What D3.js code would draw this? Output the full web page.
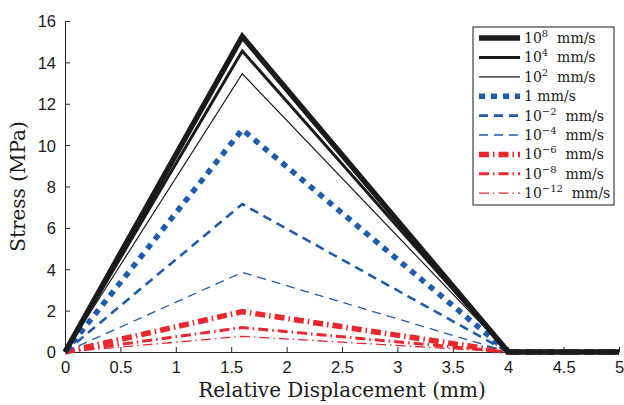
<!DOCTYPE html>
<html>
<head>
<meta charset="utf-8">
<script src="https://cdn.jsdelivr.net/npm/d3@7"></script>
<style>
  html, body { margin: 0; padding: 0; background: #fff; }
  svg { display: block; }
</style>
</head>
<body>
<svg id="chart" width="624" height="405"></svg>
<script>
// Loading rates (mm/s) given as base-10 exponents, plus the peak stress of each curve
const rateExponents = [8, 4, 2, 0, -2, -4, -6, -8, -12];
const peakStress = [15.25, 14.55, 13.45, 10.75, 7.15, 3.85, 1.95, 1.18, 0.76];
// Traction-separation shape shared by every curve: displacement knots (mm)
const dispKnots = [0, 1.6, 4, 5];
// Tick labels
const xTicks = [0, 0.5, 1, 1.5, 2, 2.5, 3, 3.5, 4, 4.5, 5];
const yTicks = [0, 2, 4, 6, 8, 10, 12, 14, 16];

const BLACK = "#1a1a1a", BLUE = "#1c5cad", RED = "#e8282e";
const styles = [
  { color: BLACK, width: 5.5, dash: null },
  { color: BLACK, width: 3, dash: null },
  { color: BLACK, width: 1.2, dash: null },
  { color: BLUE, width: 5.5, dash: "6,6" },
  { color: BLUE, width: 2.6, dash: "9,6" },
  { color: BLUE, width: 1.3, dash: "9,6" },
  { color: RED, width: 5.5, dash: "10,4,1.5,4" },
  { color: RED, width: 3, dash: "10,4,1.5,4" },
  { color: RED, width: 1.3, dash: "10,4,1.5,4" }
];

const svg = d3.select("#chart");
const x = d3.scaleLinear().domain([0, 5]).range([65, 619]);
const y = d3.scaleLinear().domain([0, 16]).range([352, 21]);

// Axes (ticks pointing inward)
const axisColor = "#262626";
const xAxis = svg.append("g").attr("transform", `translate(0,${y(0)})`)
  .call(d3.axisBottom(x).tickValues(xTicks).tickSizeInner(-5).tickSizeOuter(0)
    .tickPadding(9).tickFormat(d => String(d)));
const yAxis = svg.append("g").attr("transform", `translate(${x(0)},0)`)
  .call(d3.axisLeft(y).tickValues(yTicks).tickSizeInner(-5).tickSizeOuter(0)
    .tickPadding(9).tickFormat(d => String(d)));
[xAxis, yAxis].forEach(g => {
  g.selectAll("path").attr("stroke", axisColor).attr("stroke-width", 1);
  g.selectAll("line").attr("stroke", axisColor).attr("stroke-width", 1);
  g.selectAll("text").attr("fill", "#1a1a1a")
    .style("font-family", "'Liberation Sans', Arial, sans-serif").style("font-size", "16.5px");
});
xAxis.selectAll("text").attr("dy", "0.71em");
yAxis.selectAll("text").attr("dy", "0.36em");

// Curves
const line = d3.line().x(d => x(d[0])).y(d => y(d[1]));
const curves = rateExponents.map((e, i) => {
  const pk = peakStress[i];
  return dispKnots.map((d, k) => [d, k === 1 ? pk : 0]);
});
const gCurves = svg.append("g");
// draw thin ones first so the heavy black curves stay on top
const order = [8, 7, 6, 5, 4, 3, 2, 1, 0];
order.forEach(i => {
  const s = styles[i];
  gCurves.append("path")
    .datum(curves[i])
    .attr("d", line)
    .attr("fill", "none")
    .attr("stroke", s.color)
    .attr("stroke-width", s.width)
    .attr("stroke-dasharray", s.dash)
    .attr("stroke-linejoin", "miter")
    .attr("stroke-miterlimit", 10);
});

// Axis titles
const serif = "'DejaVu Serif', 'Liberation Serif', serif";
svg.append("text")
  .attr("x", (x(0) + x(5)) / 2).attr("y", 397)
  .attr("text-anchor", "middle")
  .style("font-family", serif).style("font-size", "20px").attr("fill", "#1a1a1a")
  .text("Relative Displacement (mm)");
svg.append("text")
  .attr("transform", `translate(25,${(y(0) + y(16)) / 2}) rotate(-90)`)
  .attr("text-anchor", "middle")
  .style("font-family", serif).style("font-size", "20px").attr("fill", "#1a1a1a")
  .text("Stress (MPa)");

// Legend
const lg = svg.append("g");
const lgX = 473, lgY = 27, lgW = 141, lgH = 178, rowH = 19.4;
lg.append("rect").attr("x", lgX).attr("y", lgY).attr("width", lgW).attr("height", lgH)
  .attr("fill", "#fff").attr("stroke", "#1a1a1a").attr("stroke-width", 1);
rateExponents.forEach((e, i) => {
  const s = styles[i];
  const cy = lgY + 11 + i * rowH;
  lg.append("line")
    .attr("x1", lgX + 6).attr("x2", lgX + 47).attr("y1", cy).attr("y2", cy)
    .attr("stroke", s.color).attr("stroke-width", s.width)
    .attr("stroke-dasharray", s.dash);
  const t = lg.append("text")
    .attr("x", lgX + 51).attr("y", cy + 5)
    .style("font-family", serif).style("font-size", "14px").attr("fill", "#1a1a1a");
  if (e === 0) {
    t.append("tspan").text("1");
  } else {
    t.append("tspan").text("10");
    t.append("tspan").attr("dy", -6).style("font-size", "10px")
      .text(e < 0 ? "\u2212" + Math.abs(e) : String(e));
    t.append("tspan").attr("dy", 6).text("\u00a0");
  }
  t.append("tspan").text("\u00a0mm/s");
});
</script>
</body>
</html>
